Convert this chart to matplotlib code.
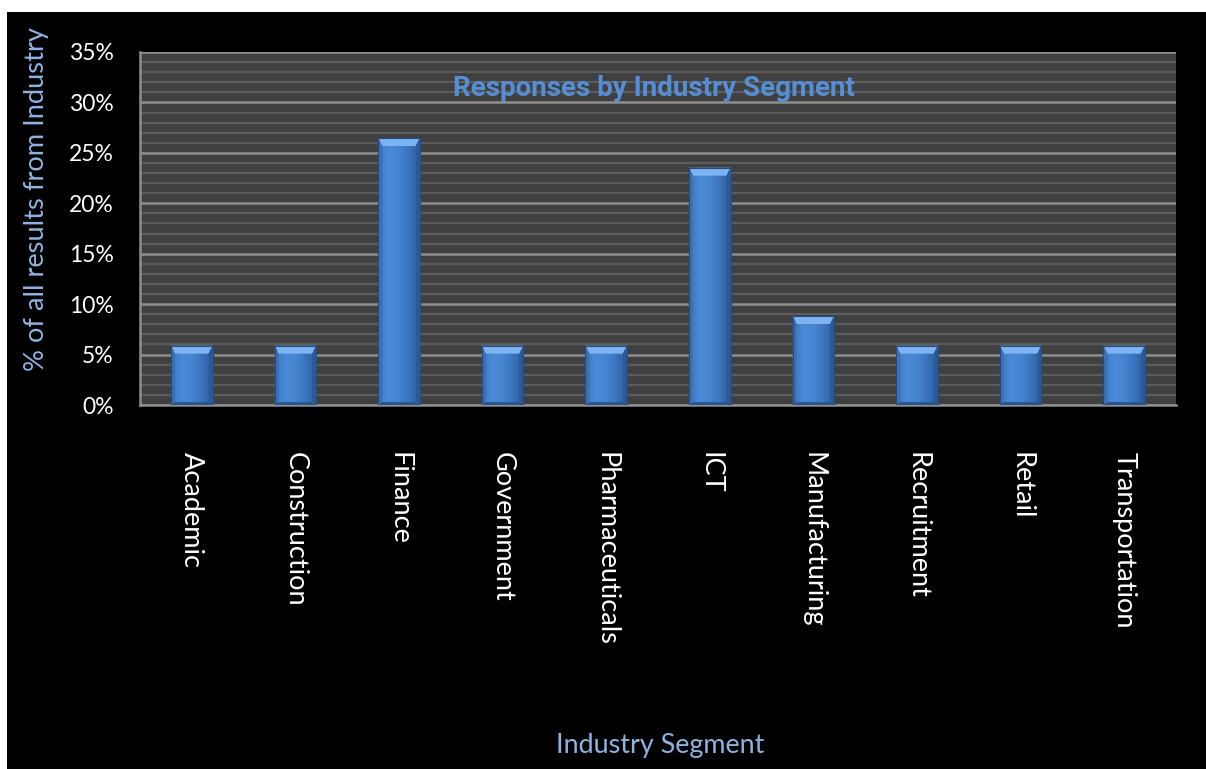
import numpy as np
import matplotlib
matplotlib.use("Agg")
import matplotlib.pyplot as plt
from matplotlib.patches import Rectangle, Polygon
from matplotlib.ticker import MultipleLocator, FuncFormatter

# Survey responses by industry segment (share of all responses, %)
categories = ["Academic", "Construction", "Finance", "Government", "Pharmaceuticals",
              "ICT", "Manufacturing", "Recruitment", "Retail", "Transportation"]
shares = [5.88, 5.88, 26.47, 5.88, 5.88, 23.53, 8.82, 5.88, 5.88, 5.88]
y_ticks = [0, 5, 10, 15, 20, 25, 30, 35]

W, H = 1206, 769
fig = plt.figure(figsize=(W / 100, H / 100), dpi=100, facecolor="white")
# black chart area with a thin white margin on the top and left
fig.patches.append(Rectangle((7 / W, 0), 1 - 7 / W, 1 - 12 / H, transform=fig.transFigure,
                             facecolor="black", edgecolor="none", zorder=-5))

ax = fig.add_axes([140 / W, 1 - 405 / H, 1036 / W, 353 / H])
ax.set_zorder(2)
ax.set_facecolor("#404040")

x = np.arange(len(categories))

# gridlines: light every 5 %, darker every 1 %
ax.yaxis.set_major_locator(MultipleLocator(5))
ax.yaxis.set_minor_locator(MultipleLocator(1))
ax.grid(which="minor", axis="y", color="#5c5c5c", linewidth=1.6, zorder=1)
ax.grid(which="major", axis="y", color="#8e8e8e", linewidth=1.8, zorder=1.1)
ax.set_axisbelow(True)

bar_w = 0.40
bars = ax.bar(x, shares, width=bar_w, color="#3f7cc8", edgecolor="#25508a",
              linewidth=0.8, zorder=3)

# horizontal shading inside each bar plus a bevelled top cap
grad = np.linspace(0, 1, 64)
cmap = matplotlib.colors.LinearSegmentedColormap.from_list(
    "barshade", ["#3f78c0", "#4a8ad6", "#4585d2", "#3a73bb", "#2c5c9c"])
px_x = (len(categories)) / 1036.0
px_y = 35.0 / 353.0
for b in bars:
    x0, w, h = b.get_x(), b.get_width(), b.get_height()
    im = ax.imshow(grad[None, :], cmap=cmap, aspect="auto",
                   extent=(x0, x0 + w, 0, h), zorder=3.5)
    im.set_clip_path(b)
    bx, by = 4 * px_x, 8 * px_y
    cap = Polygon([(x0, h), (x0 + w, h), (x0 + w - bx, h - by), (x0 + bx, h - by)],
                  closed=True, facecolor="#7db3f0", edgecolor="none", zorder=4)
    ax.add_patch(cap)
    left = Polygon([(x0, h), (x0 + bx, h - by), (x0 + bx, 3 * px_y), (x0, 0)],
                   closed=True, facecolor="#3a70b4", edgecolor="none", zorder=4)
    right = Polygon([(x0 + w, h), (x0 + w - bx, h - by), (x0 + w - bx, 3 * px_y), (x0 + w, 0)],
                    closed=True, facecolor="#2b5a98", edgecolor="none", zorder=4)
    bottom = Polygon([(x0, 0), (x0 + bx, 3 * px_y), (x0 + w - bx, 3 * px_y), (x0 + w, 0)],
                     closed=True, facecolor="#2a5690", edgecolor="none", zorder=4)
    for p in (left, right, bottom):
        ax.add_patch(p)
    ax.add_patch(Rectangle((x0, 0), w, h, facecolor="none", edgecolor="#234c84",
                           linewidth=0.8, zorder=4.5))

ax.set_xlim(-0.5, len(categories) - 0.5)
ax.set_ylim(0, 35)

for side in ("top", "right"):
    ax.spines[side].set_visible(False)
for side in ("left", "bottom"):
    ax.spines[side].set_color("#8e8e8e")
    ax.spines[side].set_linewidth(1.8)

label_font = "Lato"
ax.set_yticks(y_ticks)
ax.yaxis.set_major_formatter(FuncFormatter(lambda v, _: f"{v:.0f}%"))
ax.tick_params(axis="y", which="both", length=0, pad=19, labelcolor="white", labelsize=16.5)
ax.set_xticks(x)
ax.set_xticklabels(categories, rotation=-90, ha="center", va="top")
ax.tick_params(axis="x", length=0, pad=34, labelcolor="white", labelsize=19.5)
for lbl in ax.get_xticklabels() + ax.get_yticklabels():
    lbl.set_fontfamily(label_font)

ax.text(0.496, 0.898, "Responses by Industry Segment", transform=ax.transAxes,
        ha="center", va="center", color="#558ed5", fontsize=20, fontweight="bold",
        fontfamily="Roboto", fontstretch="condensed", zorder=6)

fig.text(37 / W, 1 - 199 / H, "% of all results from Industry", rotation=90,
         ha="center", va="center", color="#8db4e2", fontsize=19.6, fontfamily=label_font)
fig.text(660 / W, 1 - 745 / H, "Industry Segment", ha="center", va="center",
         color="#8db4e2", fontsize=19.4, fontfamily=label_font)

fig.savefig("out.png", dpi=100, facecolor="white")
